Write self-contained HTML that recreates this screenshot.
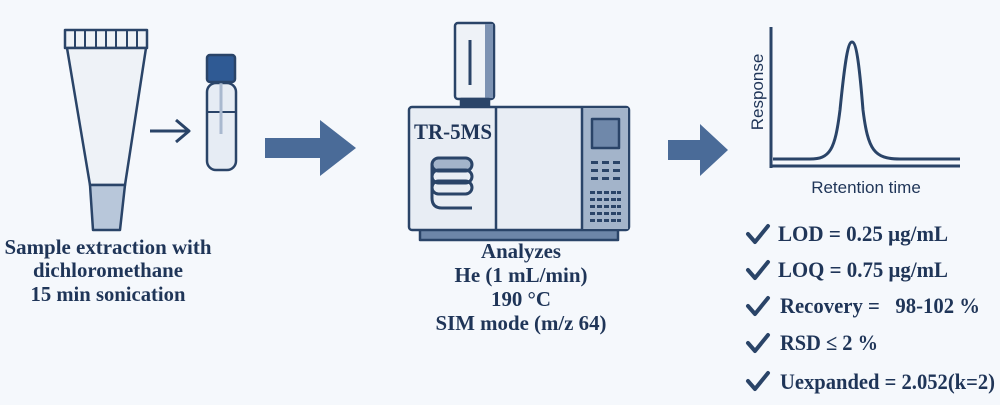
<!DOCTYPE html>
<html><head><meta charset="utf-8"><style>
html,body{margin:0;padding:0;background:#f5f8fc;}
svg{display:block}
.t{font-family:"Liberation Serif",serif;font-weight:bold;fill:#1f3558;}
.s{font-family:"Liberation Sans",sans-serif;fill:#1f3558;}
</style></head><body>
<svg width="1000" height="405" viewBox="0 0 1000 405">
<rect width="1000" height="405" fill="#f5f8fc"/>
<g stroke="#2a4468" stroke-width="2.5" stroke-linejoin="round">
<rect x="65" y="30" width="82" height="18" fill="#eef2f7"/>
<g stroke-width="2"><line x1="75" y1="30" x2="75" y2="48"/><line x1="85" y1="30" x2="85" y2="48"/><line x1="96" y1="30" x2="96" y2="48"/><line x1="106" y1="30" x2="106" y2="48"/><line x1="116" y1="30" x2="116" y2="48"/><line x1="127" y1="30" x2="127" y2="48"/><line x1="137" y1="30" x2="137" y2="48"/></g>
<polygon points="67,48 146,48 125,185 90,185" fill="#eef2f7"/>
<polygon points="90,185 125,185 120,230 93,230" fill="#b8c7da"/>
<line x1="150" y1="131" x2="188" y2="131" stroke-width="3"/>
<polyline points="176,120 189,131 176,142" fill="none" stroke-width="3"/>
<rect x="207" y="83" width="29" height="87" rx="9" fill="#e6ecf4"/>
<line x1="207" y1="112" x2="236" y2="112" stroke-width="2"/>
<line x1="221" y1="82" x2="221" y2="134" stroke="#a9b9cf" stroke-width="3"/>
<rect x="207" y="55" width="28" height="27" rx="3" fill="#2f5a94"/>
<rect x="455" y="23" width="39" height="76" rx="3" fill="#eef2f7"/>
<rect x="485" y="24" width="8" height="74" fill="#7d93b3" stroke="none"/>
<line x1="470" y1="40" x2="470" y2="85" stroke-width="3"/>
<rect x="461" y="99" width="28" height="8" fill="#2a4468"/>
<rect x="420" y="228" width="198" height="12" fill="#6d86a8"/>
<rect x="409" y="107" width="220" height="123" rx="3" fill="#e8edf4"/>
<rect x="583" y="108" width="45" height="121" fill="#a3b4ca" stroke="none"/>
<line x1="496" y1="107" x2="496" y2="230"/>
<line x1="582" y1="107" x2="582" y2="230"/>
<rect x="592" y="119" width="27" height="29" fill="#6f88aa"/>
</g>
<g fill="#2a4468">
<rect x="591" y="161" width="7" height="3"/><rect x="602" y="161" width="7" height="3"/><rect x="613" y="161" width="7" height="3"/>
<rect x="591" y="169" width="7" height="3"/><rect x="602" y="169" width="7" height="3"/><rect x="613" y="169" width="7" height="3"/>
<rect x="591" y="177" width="7" height="3"/><rect x="602" y="177" width="7" height="3"/><rect x="613" y="177" width="7" height="3"/>
<rect x="590" y="191" width="5" height="3"/><rect x="597" y="191" width="5" height="3"/><rect x="604" y="191" width="5" height="3"/><rect x="611" y="191" width="5" height="3"/><rect x="617" y="191" width="4" height="3"/>
<rect x="590" y="198" width="5" height="3"/><rect x="597" y="198" width="5" height="3"/><rect x="604" y="198" width="5" height="3"/><rect x="611" y="198" width="5" height="3"/><rect x="617" y="198" width="4" height="3"/>
<rect x="590" y="205" width="5" height="3"/><rect x="597" y="205" width="5" height="3"/><rect x="604" y="205" width="5" height="3"/><rect x="611" y="205" width="5" height="3"/><rect x="617" y="205" width="4" height="3"/>
<rect x="590" y="212" width="5" height="3"/><rect x="597" y="212" width="5" height="3"/><rect x="604" y="212" width="5" height="3"/><rect x="611" y="212" width="5" height="3"/><rect x="617" y="212" width="4" height="3"/>
<rect x="590" y="219" width="5" height="3"/><rect x="597" y="219" width="5" height="3"/><rect x="604" y="219" width="5" height="3"/><rect x="611" y="219" width="5" height="3"/><rect x="617" y="219" width="4" height="3"/>
</g>
<g fill="none" stroke="#2a4468" stroke-width="3">
<rect x="432" y="158" width="40" height="13" rx="6.5" fill="#a3b4ca"/>
<rect x="432" y="170" width="40" height="13" rx="6.5"/>
<rect x="432" y="181" width="40" height="13" rx="6.5"/>
<path d="M432,164 V198 Q432,208 442,208 H472"/>
</g>
<text x="414" y="139" class="t" font-size="22" textLength="78" lengthAdjust="spacingAndGlyphs">TR-5MS</text>
<polygon points="265,138 320,138 320,120 356,148 320,176 320,158 265,158" fill="#4a6b98"/>
<polygon points="668,140 700,140 700,124 728,150 700,176 700,160 668,160" fill="#4a6b98"/>
<g stroke="#2a4468" stroke-width="3" fill="none">
<line x1="771" y1="27" x2="771" y2="168"/>
<line x1="770" y1="166" x2="960" y2="166"/>
<path d="M773,159 L810,159 C830,159 835,150 840,110 C845,60 848,42 852,42 C856,42 859,60 863,110 C868,150 874,159 900,159 L960,159"/>
</g>
<text transform="translate(763,92) rotate(-90)" class="s" font-size="17" text-anchor="middle">Response</text>
<text x="866" y="193" class="s" font-size="17" text-anchor="middle">Retention time</text>
<g class="t" font-size="21" text-anchor="middle">
<text x="108" y="254" textLength="207" lengthAdjust="spacingAndGlyphs">Sample extraction with</text>
<text x="108" y="277" textLength="150" lengthAdjust="spacingAndGlyphs">dichloromethane</text>
<text x="108" y="301" textLength="155" lengthAdjust="spacingAndGlyphs">15 min sonication</text>
<text x="521" y="258" textLength="80" lengthAdjust="spacingAndGlyphs">Analyzes</text>
<text x="521" y="282" textLength="133" lengthAdjust="spacingAndGlyphs">He (1 mL/min)</text>
<text x="521" y="306" textLength="60" lengthAdjust="spacingAndGlyphs">190 °C</text>
<text x="521" y="330" textLength="171" lengthAdjust="spacingAndGlyphs">SIM mode (m/z 64)</text>
</g>
<g stroke="#2a4468" stroke-width="4" fill="none" stroke-linecap="round" stroke-linejoin="round">
<polyline points="748,234 755,242 768,226"/>
<polyline points="748,270 755,278 768,262"/>
<polyline points="748,306 755,314 768,298"/>
<polyline points="748,343 755,351 768,335"/>
<polyline points="748,381 755,389 768,373"/>
</g>
<g class="t" font-size="22">
<text x="778" y="241" textLength="170" lengthAdjust="spacingAndGlyphs">LOD = 0.25 μg/mL</text>
<text x="778" y="277" textLength="170" lengthAdjust="spacingAndGlyphs">LOQ = 0.75 μg/mL</text>
<text x="780" y="313" xml:space="preserve" textLength="200" lengthAdjust="spacingAndGlyphs">Recovery =   98-102 %</text>
<text x="780" y="350" textLength="98" lengthAdjust="spacingAndGlyphs">RSD ≤ 2 %</text>
<text x="780" y="389" textLength="215" lengthAdjust="spacingAndGlyphs">Uexpanded = 2.052(k=2)</text>
</g>
</svg>
</body></html>
